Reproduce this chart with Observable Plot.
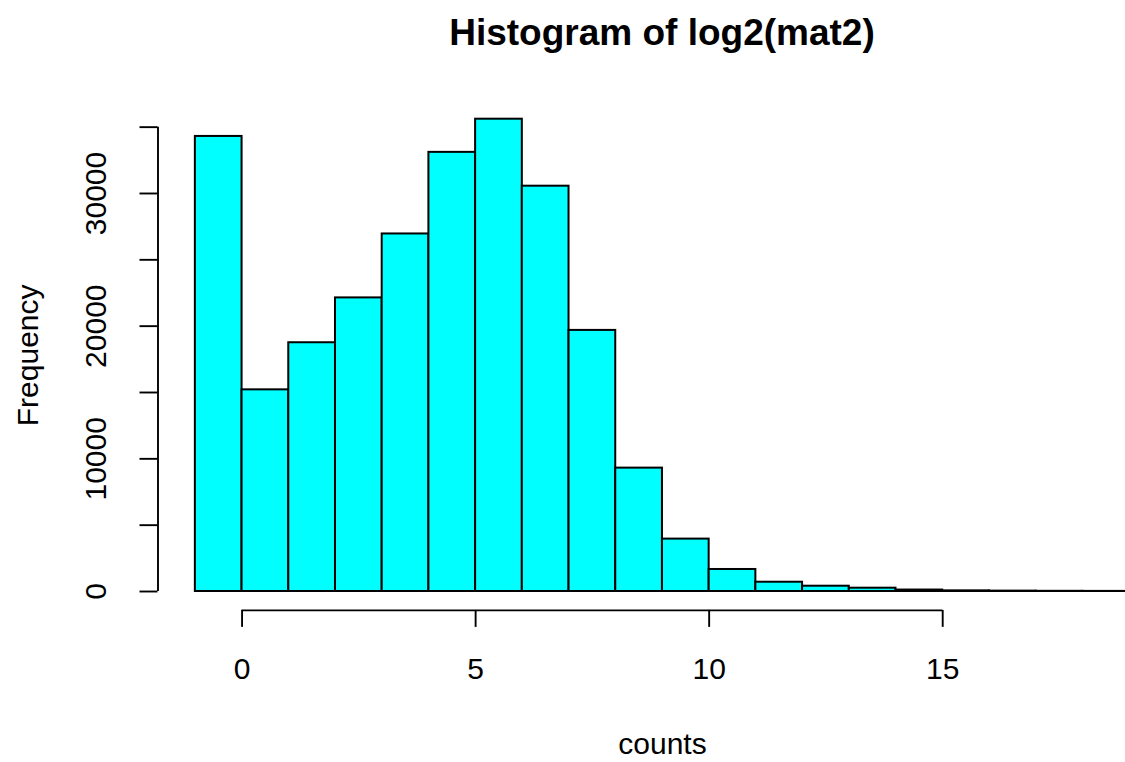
<!DOCTYPE html>
<html><head><meta charset="utf-8">
<script src="https://cdn.jsdelivr.net/npm/d3@7"></script>
<script src="https://cdn.jsdelivr.net/npm/@observablehq/plot@0.6"></script>
<style>
html,body{margin:0;padding:0;background:#fff;overflow:hidden;}
#wrap{width:1125px;height:762px;position:relative;font-family:"Liberation Sans",Arial,Helvetica,sans-serif;}
#title{position:absolute;left:157.5px;width:1009px;top:14px;text-align:center;font-weight:bold;font-size:37px;line-height:37px;white-space:nowrap;color:#000;}
#chart{position:absolute;left:0;top:70px;}
</style></head><body>
<div id="wrap"><div id="title">Histogram of log2(mat2)</div><div id="chart"></div></div>
<script>
// Bin left edges (width 1) and frequencies
const binStarts = [-1, 0, 1, 2, 3, 4, 5, 6, 7, 8, 9, 10, 11, 12, 13, 14, 15, 16, 17, 18];
const binEnds   = [0, 1, 2, 3, 4, 5, 6, 7, 8, 9, 10, 11, 12, 13, 14, 15, 16, 17, 18, 19];
const frequencies = [34300, 15200, 18750, 22130, 26950, 33100, 35600, 30550, 19680, 9300,
                     3950, 1660, 700, 400, 250, 110, 50, 30, 15, 8];
const xTicks = [0, 5, 10, 15];
const yTicks = [0, 5000, 10000, 15000, 20000, 25000, 30000, 35000];
const yTickLabels = [0, 10000, 20000, 30000];
const xLabel = "counts";
const yLabel = "Frequency";

const bins = binStarts.map((s, i) => ({x1: s, x2: binEnds[i], count: frequencies[i]}));

// R-style 4% axis extension
const xMin = d3.min(binStarts), xMax = d3.max(binEnds);
const xPad = 0.04 * (xMax - xMin);
const xDomain = [xMin - xPad, xMax + xPad];
const yMax = d3.max(frequencies);
const yPad = 0.04 * yMax;
const yDomain = [-yPad, yMax + yPad];

const chart = Plot.plot({
  width: 1125,
  height: 692,
  marginLeft: 157.5,
  marginRight: -41.4,
  marginTop: 29.8,
  marginBottom: 152.1,
  style: {fontFamily: "Liberation Sans, Arial, Helvetica, sans-serif", fontSize: "30px", color: "#000", background: "#fff", overflow: "visible"},
  x: {domain: xDomain},
  y: {domain: yDomain},
  marks: [
    Plot.rect(bins, {x1: "x1", x2: "x2", y1: 0, y2: "count", fill: "#00FFFF", stroke: "#000", strokeWidth: 2}),
    Plot.ruleY([yDomain[0]], {x1: xTicks[0], x2: xTicks[xTicks.length - 1], stroke: "#000", strokeWidth: 1.9}),
    Plot.ruleX([xDomain[0]], {y1: yTicks[0], y2: yTicks[yTicks.length - 1], stroke: "#000", strokeWidth: 1.9}),
    Plot.axisX(xTicks, {anchor: "bottom", tickSize: 17, tickPadding: 30, strokeWidth: 1.9, fontSize: 30, tickFormat: d => String(d), label: null}),
    Plot.axisY(yTicks, {anchor: "left", tickSize: 18, strokeWidth: 1.9, tickFormat: () => "", label: null}),
    Plot.text(yTickLabels, {y: d => d, frameAnchor: "left", textAnchor: "middle", rotate: -90, dx: -62, text: d => String(d), fontSize: 30, fill: "#000"}),
    Plot.text([xLabel], {frameAnchor: "bottom", textAnchor: "middle", dy: 144, fontSize: 30, fill: "#000"}),
    Plot.text([yLabel], {frameAnchor: "left", textAnchor: "middle", rotate: -90, dx: -130, fontSize: 30, fill: "#000"})
  ]
});
document.getElementById("chart").appendChild(chart);
</script>
</body></html>
